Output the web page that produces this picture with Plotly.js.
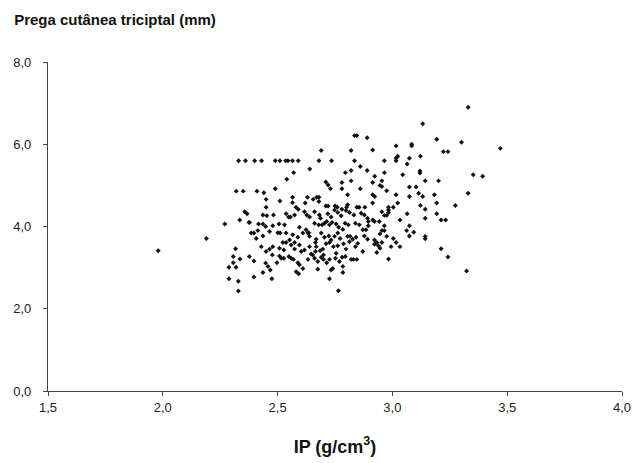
<!DOCTYPE html>
<html><head><meta charset="utf-8">
<script src="https://cdn.plot.ly/plotly-3.0.1.min.js"></script>
<style>body{margin:0;background:#fff}#c{width:643px;height:463px}</style>
</head><body><div id="c"></div>
<script>
const titleText = 'Prega cutânea triciptal (mm)';
const xTitle = 'IP (g/cm<sup>3</sup>)';
const xTickLabels = ['1,5','2,0','2,5','3,0','3,5','4,0'];
const yTickLabels = ['0,0','2,0','4,0','6,0','8,0'];
// IP (g/cm3) values
const ipValues = [
2.33,2.36,2.32,2.35,1.98,2.19,2.27,2.335,2.357,2.367,2.375,2.317,2.307,2.336,2.377,2.307,2.288,2.319,2.288,2.329,2.329,
2.40,2.43,2.49,2.51,2.535,2.545,2.565,2.59,2.57,2.54,2.64,2.69,2.68,2.735,2.835,2.845,2.89,2.82,2.835,2.86,2.89,2.82,2.795,2.71,2.72,2.73,2.78,2.78,2.82,2.805,2.86,
2.41,2.44,2.45,2.49,2.51,2.565,2.565,2.58,2.59,2.63,2.62,2.655,2.67,2.68,2.68,2.71,2.72,2.75,2.76,2.78,2.80,2.805,2.845,2.855,2.88,2.45,
2.436,2.453,2.482,2.537,2.548,2.556,2.574,2.617,2.627,2.639,2.661,2.682,2.687,2.719,2.733,2.748,2.762,2.777,2.798,2.813,2.832,2.864,2.878,2.892,
2.378,2.417,2.436,2.448,2.479,2.506,2.53,2.595,2.624,2.636,2.661,2.679,2.694,2.704,2.714,2.726,2.737,2.755,2.766,2.784,2.794,2.808,2.839,2.856,2.871,2.885,2.895,2.895,
2.385,2.397,2.414,2.407,2.436,2.465,2.501,2.511,2.537,2.566,2.552,2.574,2.588,2.61,2.632,2.639,2.668,2.665,2.69,2.704,2.723,2.733,2.748,2.762,2.772,2.805,2.816,2.827,2.842,2.878,2.892,2.813,
2.429,2.45,2.465,2.479,2.477,2.523,2.537,2.527,2.508,2.559,2.574,2.595,2.603,2.617,2.639,2.646,2.668,2.665,2.685,2.697,2.711,2.726,2.743,2.762,2.787,2.798,2.839,2.849,2.871,2.755,2.70,2.508,
2.397,2.448,2.458,2.497,2.516,2.527,2.549,2.559,2.569,2.588,2.595,2.61,2.632,2.653,2.661,2.675,2.69,2.70,2.726,2.714,2.752,2.769,2.781,2.795,2.82,2.83,2.845,2.784,2.74,
2.436,2.468,2.581,2.592,2.675,2.733,2.784,2.397,2.475,2.726,2.765,
3.33,3.132,3.193,3.301,3.47,2.914,3.016,3.084,3.084,3.222,3.242,3.122,3.023,3.016,3.016,3.074,2.965,3.064,3.12,3.12,3.045,2.923,2.965,2.914,2.954,2.946,2.954,2.975,3.143,3.201,3.352,3.393,3.074,3.103,3.114,3.132,3.183,3.33,2.914,2.923,3.016,3.074,2.914,3.023,3.193,
3.122,3.143,3.274,2.954,2.983,2.983,2.983,3.004,2.965,2.975,3.064,3.193,3.143,3.212,3.232,3.033,2.914,2.922,2.943,2.965,3.074,2.954,2.965,3.062,3.093,2.946,2.975,3.074,3.143,3.143,3.004,2.922,2.932,2.954,2.922,2.939,2.946,3.016,2.994,3.033,2.932,2.983,3.212,3.242,3.323
];
// Prega cutânea triciptal (mm) values
const pregaValues = [
5.60,5.60,4.86,4.86,3.41,3.71,4.06,4.16,4.36,4.31,4.10,3.46,3.27,3.21,3.27,3.12,3.01,3.01,2.73,2.67,2.43,
5.60,5.60,5.60,5.60,5.60,5.60,5.60,5.60,5.31,5.15,5.40,5.85,5.60,5.60,6.21,6.21,6.16,5.85,5.60,5.46,5.36,5.36,5.31,5.08,5.01,4.92,4.92,5.07,5.11,4.77,4.92,
4.86,4.82,4.66,4.92,4.62,4.71,4.58,4.47,4.42,4.71,4.57,4.66,4.71,4.71,4.61,4.50,4.50,4.50,4.47,4.42,4.47,4.53,4.47,4.47,4.47,4.47,
4.28,4.26,4.28,4.31,4.23,4.23,4.28,4.36,4.28,4.23,4.36,4.28,4.20,4.31,4.23,4.40,4.34,4.26,4.39,4.34,4.28,4.32,4.28,4.20,
4.10,4.06,4.06,4.00,4.02,4.06,4.04,3.98,3.92,3.85,4.08,4.04,4.04,4.08,4.12,4.04,4.10,4.06,3.98,3.93,4.08,4.04,4.08,4.04,3.92,3.92,4.12,4.02,
3.84,3.84,3.90,3.71,3.77,3.88,3.85,3.84,3.84,3.80,3.67,3.61,3.74,3.84,3.84,3.76,3.69,3.61,3.84,3.74,3.77,3.67,3.76,3.84,3.71,3.76,3.76,3.69,3.74,3.77,3.69,3.63,
3.51,3.39,3.45,3.51,3.31,3.61,3.61,3.43,3.47,3.55,3.45,3.55,3.39,3.43,3.51,3.33,3.51,3.39,3.41,3.45,3.58,3.61,3.51,3.53,3.58,3.45,3.51,3.59,3.39,3.35,3.31,3.28,
3.16,3.11,3.03,3.12,3.23,3.23,3.27,3.23,3.20,3.12,3.07,2.98,3.20,3.31,3.23,3.15,3.25,3.20,3.20,3.12,3.23,3.15,3.25,3.27,3.20,3.20,3.20,3.03,2.98,
2.88,2.94,2.90,2.85,2.96,2.94,2.88,2.77,2.73,2.73,2.44,
6.90,6.50,6.12,6.05,5.90,5.86,5.96,6.00,5.96,5.82,5.82,5.71,5.71,5.66,5.60,5.66,5.60,5.52,5.35,5.30,5.26,5.22,5.31,5.07,5.11,5.00,4.97,4.87,5.11,5.11,5.26,5.22,4.96,4.96,4.81,4.73,4.77,4.81,4.77,4.73,4.77,4.73,4.57,4.57,4.57,
4.51,4.42,4.51,4.36,4.47,4.40,4.34,4.47,4.27,4.27,4.31,4.31,4.20,4.16,4.16,4.16,4.16,4.12,4.12,4.02,4.02,3.90,3.90,3.90,3.86,3.82,3.76,3.77,3.76,3.70,3.71,3.67,3.61,3.61,3.57,3.53,3.47,3.61,3.51,3.51,3.37,3.21,3.46,3.26,2.92
];
const fontFam = '"Liberation Sans", Arial, sans-serif';
const trace = {
  type: 'scatter', mode: 'markers', x: ipValues, y: pregaValues,
  marker: {symbol: 'diamond', size: 3.8, color: '#111'},
  cliponaxis: false, hoverinfo: 'skip'
};
const axisCommon = {
  showline: true, linecolor: '#444', linewidth: 1, ticks: 'outside', ticklen: 4,
  tickcolor: '#444', showgrid: false, zeroline: false,
  tickfont: {family: fontFam, size: 13, color: '#222'}
};
const layout = {
  width: 643, height: 463,
  margin: {l: 48, r: 21, t: 62, b: 72},
  paper_bgcolor: '#fff', plot_bgcolor: '#fff',
  showlegend: false,
  font: {family: fontFam, color: '#111'},
  title: {text: '<b>' + titleText + '</b>', font: {family: fontFam, size: 15, color: '#111'},
          xref: 'container', yref: 'container', x: 0.022, xanchor: 'left', y: 0.957, yanchor: 'middle'},
  xaxis: Object.assign({}, axisCommon, {
    range: [1.5, 4.0], tickmode: 'array', tickvals: [1.5,2.0,2.5,3.0,3.5,4.0], ticktext: xTickLabels,
    title: {text: '<b>' + xTitle + '</b>', font: {family: fontFam, size: 18, color: '#111'}, standoff: 26}
  }),
  yaxis: Object.assign({}, axisCommon, {
    range: [0, 8], tickmode: 'array', tickvals: [0,2,4,6,8],
    ticktext: yTickLabels.map(t => t + '\u2002\u2009')
  })
};
Plotly.newPlot('c', [trace], layout, {displayModeBar: false, staticPlot: true});
</script>
</body></html>
